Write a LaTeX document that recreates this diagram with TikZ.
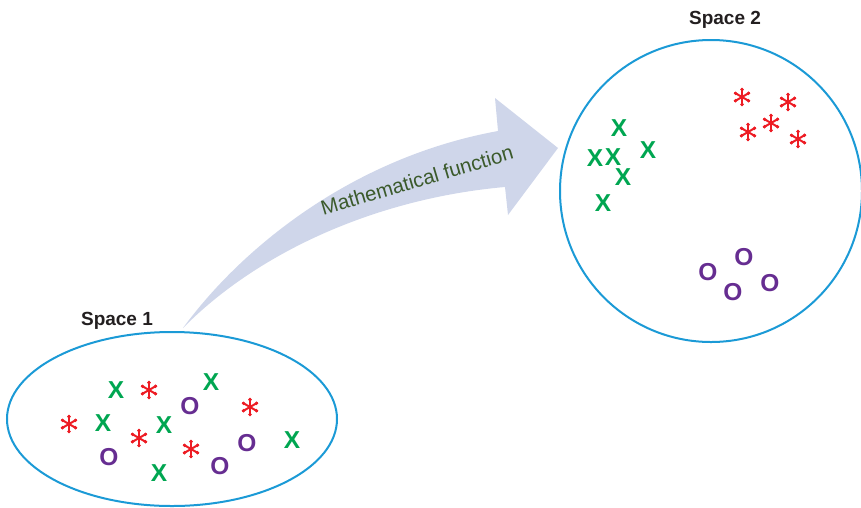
\documentclass[tikz,border=0pt]{standalone}
\usepackage{fontspec}
\setmainfont{Liberation Sans}
\definecolor{ringblue}{HTML}{1B9AD6}
\definecolor{arrowfill}{HTML}{CFD6EA}
\definecolor{fntext}{HTML}{3B5A2B}
\definecolor{xgreen}{HTML}{00A651}
\definecolor{sred}{HTML}{ED1C24}
\definecolor{opurple}{HTML}{662D91}
\definecolor{labelblack}{HTML}{231F20}
\tikzset{
  ring/.style={draw=ringblue, line width=2pt},
  spacelabel/.style={font=\fontsize{19}{19}\selectfont\bfseries, text=labelblack, inner sep=0pt},
  xmark/.style={font=\fontsize{24.5}{24.5}\selectfont\bfseries, text=xgreen, inner sep=0pt},
  omark/.style={font=\fontsize{24.5}{24.5}\selectfont\bfseries, text=opurple, inner sep=0pt},
  starm/.style={draw=sred, line width=2pt, line cap=round},
  startip/.style={fill=sred},
}
\newcommand{\starsym}[2]{%
  \begin{scope}[shift={(#1,#2)}]
    \foreach \a in {30,90,150,210,270,330}{
      \draw[starm] (0,0) -- (\a:8.2);
      \fill[startip] (\a:7.4) circle [radius=1.9];
    }
  \end{scope}}
\begin{document}
\begin{tikzpicture}[x=1pt,y=-1pt]
\useasboundingbox (0,0) rectangle (861,507);
% arrow
\fill[arrowfill] (183,328) .. controls (240,250) and (350,158) .. (498,131)
  -- (495,98) -- (558,148) -- (508,215) -- (505,187)
  .. controls (380,198) and (260,250) .. (183,328) -- cycle;
\node[font=\fontsize{20.5}{20.5}\selectfont, text=fntext, rotate=16.5, inner sep=0pt] (fn) at (417,180) {Mathematical function};
% spaces
\draw[ring] (172,419) ellipse [x radius=165, y radius=87];
\draw[ring] (711,191) circle [radius=151];
\node[spacelabel] (s1) at (117,321) {Space 1};
\node[spacelabel] (s2) at (725,20) {Space 2};
% space 1 marks
\foreach \x/\y in {116/390, 211/382, 103/423, 164/425, 292/440, 159/473}
  \node[xmark] at (\x,\y) {X};
\foreach \x/\y in {190/406, 247/443, 109/457, 220/466}
  \node[omark] at (\x,\y) {O};
\starsym{149}{390}
\starsym{69}{424}
\starsym{250}{407}
\starsym{139}{438}
\starsym{191}{449}
% space 2 marks
\foreach \x/\y in {619/128, 595/158, 613/157, 648/150, 623/177, 603/203}
  \node[xmark] at (\x,\y) {X};
\foreach \x/\y in {744/257, 708/272, 733/292, 770/283}
  \node[omark] at (\x,\y) {O};
\starsym{742}{97}
\starsym{788}{102}
\starsym{748}{132}
\starsym{771}{123}
\starsym{798}{139}
\end{tikzpicture}
\end{document}
